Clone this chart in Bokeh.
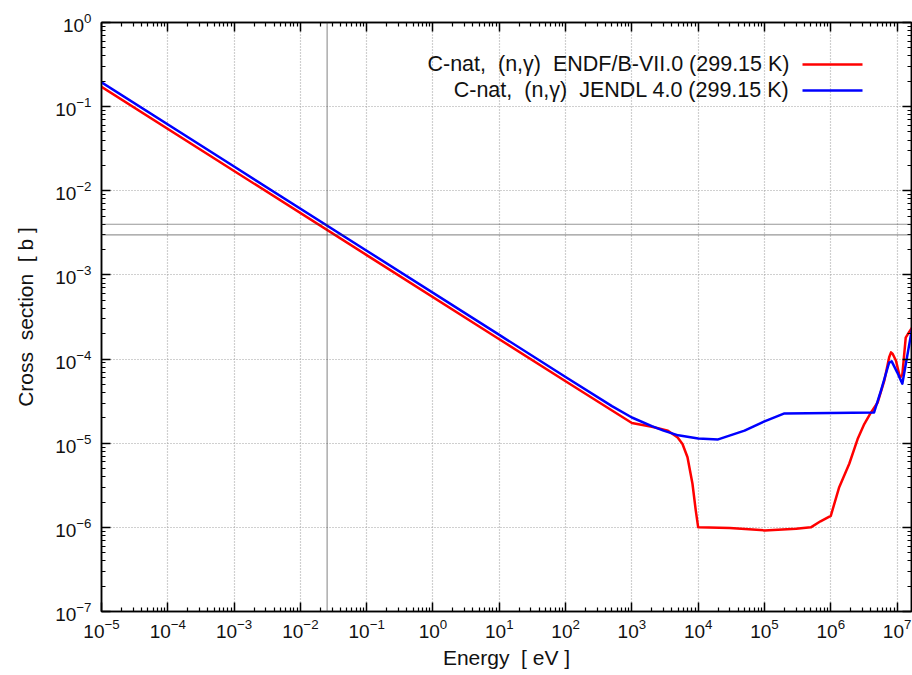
from bokeh.plotting import figure
from bokeh.models import (LogAxis, FixedTicker, LogTickFormatter, Span, Label,
                          Arrow, Range1d)
from bokeh.embed import file_html
from bokeh.resources import INLINE

# C-nat (n,gamma) capture cross sections [b] versus neutron energy [eV]
endf_energy = [1e-5, 1e-3, 1e-1, 1e1, 1e2, 1e3, 2e3, 3.5e3, 4.9e3, 5.8e3, 6.9e3,
               8.2e3, 9.2e3, 1e4, 3e4, 1e5, 3e5, 5e5, 7e5, 1e6, 1.34e6, 1.9e6,
               2.54e6, 3.2e6, 4.0e6, 5.1e6, 6.4e6, 7.6e6, 8.1e6, 8.6e6, 9.6e6,
               1.11e7, 1.2e7, 1.35e7, 1.5e7, 1.7e7]
endf_xs = [0.172, 1.72e-2, 1.72e-3, 1.72e-4, 5.44e-5, 1.74e-5, 1.57e-5, 1.41e-5,
           1.17e-5, 9.8e-6, 6.8e-6, 3.3e-6, 1.58e-6, 1.0e-6, 9.8e-7, 9.2e-7,
           9.6e-7, 1.0e-6, 1.18e-6, 1.37e-6, 3.0e-6, 5.7e-6, 1.12e-5, 1.69e-5,
           2.29e-5, 3.05e-5, 5.5e-5, 1.05e-4, 1.2e-4, 1.15e-4, 9.6e-5, 6.0e-5,
           6.5e-5, 1.8e-4, 2.06e-4, 2.4e-4]

jendl_energy = [1e-5, 1e-3, 1e-1, 1e1, 1e2, 5e2, 1e3, 2e3, 3e3, 5e3, 1e4, 2e4,
                5e4, 1e5, 2e5, 1e6, 4.5e6, 5.7e6, 7.6e6, 8.3e6, 1.0e7, 1.2e7,
                1.47e7, 1.7e7]
jendl_xs = [0.194, 1.94e-2, 1.94e-3, 1.94e-4, 6.13e-5, 2.76e-5, 2.02e-5, 1.6e-5,
            1.41e-5, 1.24e-5, 1.14e-5, 1.11e-5, 1.41e-5, 1.82e-5, 2.26e-5,
            2.28e-5, 2.32e-5, 4.2e-5, 9.1e-5, 9.4e-5, 7.0e-5, 5.1e-5, 1.26e-4,
            2.4e-4]

NB = "\u00a0 "  # wide gap that survives whitespace collapsing
series_labels = ["C-nat," + NB + "(n,\u03b3)" + NB + "ENDF/B-VII.0 (299.15 K)",
                 "C-nat," + NB + "(n,\u03b3)" + NB + "JENDL 4.0 (299.15 K)"]
series_colors = ["#ff0000", "#0000ff"]

# thermal energy marker and thermal cross-section levels
thermal_energy = 0.0253
thermal_levels = [4e-3, 3e-3]

x_exponents = list(range(-5, 8))
y_exponents = list(range(-7, 1))
x_ticks = [10.0 ** e for e in x_exponents]
y_ticks = [10.0 ** e for e in y_exponents]
x_minor = [m * 10.0 ** e for e in x_exponents for m in range(2, 10)]
y_minor = [m * 10.0 ** e for e in y_exponents for m in range(2, 10)]

FONT = "Liberation Sans"

p = figure(width=912, height=675, x_axis_type="log", y_axis_type="log",
           x_range=Range1d(1e-5, 1.65e7), y_range=Range1d(1e-7, 1.0),
           output_backend="svg", toolbar_location=None,
           min_border_left=101, min_border_right=1, min_border_top=22,
           min_border_bottom=64)
p.background_fill_color = "white"
p.border_fill_color = "white"
p.outline_line_color = "black"
p.outline_line_width = 1.5


def style_axis(ax, ticks, minor, show_labels):
    ax.ticker = FixedTicker(ticks=ticks, minor_ticks=minor)
    ax.axis_line_color = "black"
    ax.axis_line_width = 1.5
    ax.major_tick_in = 9
    ax.major_tick_out = 0
    ax.minor_tick_in = 4
    ax.minor_tick_out = 0
    ax.major_tick_line_width = 1.5
    ax.minor_tick_line_width = 1.2
    ax.major_label_text_font = FONT
    ax.major_label_text_color = "#111111"
    ax.major_label_text_font_size = "19px"
    if show_labels:
        ax.formatter = LogTickFormatter()
    else:
        ax.major_label_text_color = None
        ax.major_label_overrides = {t: " " for t in ticks}
        ax.major_label_text_font_size = "2px"
        ax.major_label_standoff = 0


style_axis(p.xaxis[0], x_ticks, x_minor, True)
style_axis(p.yaxis[0], y_ticks, y_minor, True)
p.xaxis[0].major_label_standoff = 7
p.yaxis[0].major_label_standoff = 10
p.xaxis[0].axis_label = "Energy" + NB + "[ eV ]"
p.yaxis[0].axis_label = "Cross" + NB + "section" + NB + "[ b ]"
for ax in (p.xaxis[0], p.yaxis[0]):
    ax.axis_label_text_font = FONT
    ax.axis_label_text_font_size = "21px"
    ax.axis_label_text_font_style = "normal"
    ax.axis_label_text_color = "#111111"
p.xaxis[0].axis_label_standoff = 5
p.yaxis[0].axis_label_standoff = 15

top_axis = LogAxis()
right_axis = LogAxis()
style_axis(top_axis, x_ticks, x_minor, False)
style_axis(right_axis, y_ticks, y_minor, False)
p.add_layout(top_axis, "above")
p.add_layout(right_axis, "right")

for g in (p.xgrid[0], p.ygrid[0]):
    g.grid_line_color = "#a0a0a0"
    g.grid_line_dash = "1 2"
    g.grid_line_width = 1.2
p.xgrid[0].ticker = FixedTicker(ticks=x_ticks)
p.ygrid[0].ticker = FixedTicker(ticks=y_ticks)

p.add_layout(Span(location=thermal_energy, dimension="height",
                  line_color="#303030", line_dash="1 1", line_width=1.2))
for lvl in thermal_levels:
    p.add_layout(Span(location=lvl, dimension="width",
                      line_color="#303030", line_dash="1 1", line_width=1.2))

p.line(endf_energy, endf_xs, line_color=series_colors[0], line_width=2.5,
       line_join="round")
p.line(jendl_energy, jendl_xs, line_color=series_colors[1], line_width=2.5,
       line_join="round")

# key in the upper right: text followed by a line sample
key_rows = [548, 522]
for label, color, row in zip(series_labels, series_colors, key_rows):
    p.add_layout(Label(x=688, y=row, x_units="screen", y_units="screen",
                       text=label, text_align="right", text_baseline="middle",
                       text_font=FONT, text_font_size="21.5px",
                       text_color="#111111"))
    p.add_layout(Arrow(x_start=701, y_start=row - 1, x_end=761, y_end=row - 1,
                       start_units="screen", end_units="screen", end=None,
                       line_color=color, line_width=2.5))

open("out.html", "w").write(file_html(p, INLINE))
